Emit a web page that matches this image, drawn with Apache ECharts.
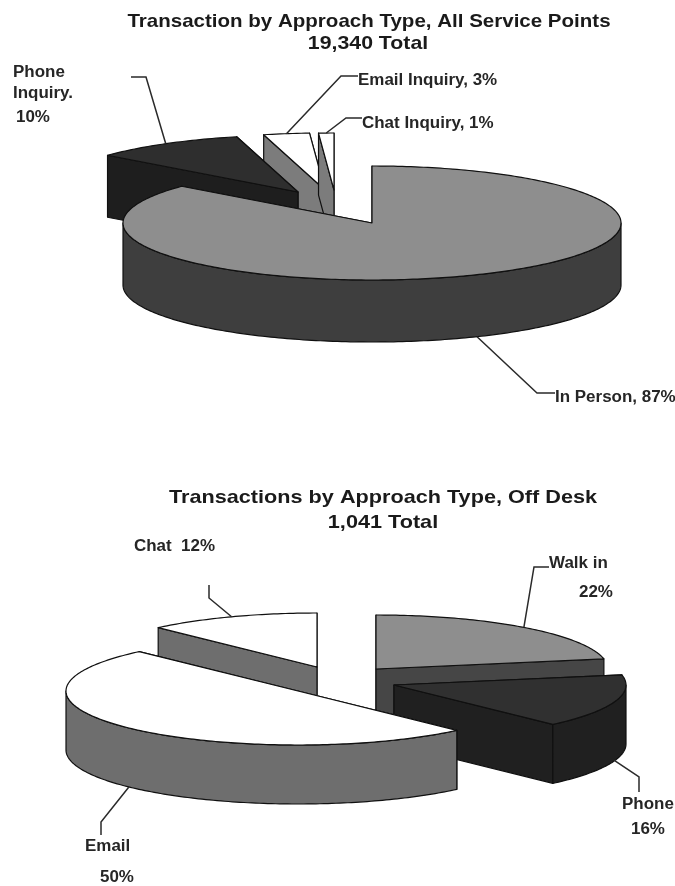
<!DOCTYPE html>
<html>
<head>
<meta charset="utf-8">
<style>html,body{margin:0;padding:0;background:#fff}#c{width:675px;height:886px;filter:blur(0.4px)}</style>
<script src="https://cdn.jsdelivr.net/npm/echarts@6/dist/echarts.min.js"></script>
</head>
<body>
<div id="c"></div>
<script>
// ---- data ----
const allPointCategories = ['In Person', 'Phone Inquiry', 'Email Inquiry', 'Chat Inquiry'];
const allPointValues = [87, 10, 3, 1];
const offDeskCategories = ['Walk in', 'Phone', 'Email', 'Chat'];
const offDeskValues = [22, 16, 50, 12];

// ---- look and layout ----
const FONT = '"Liberation Sans", Arial, sans-serif';
const LABEL_STRETCH = 1.06;
const layoutTop = {
  rx: 249, ry: 57, depth: 62,
  apex: [[372, 223], [298, 192], [325, 190], [334, 190]],
  order: [2, 3, 1, 0],
  topFill: ['#8e8e8e', '#2e2e2e', '#ffffff', '#ffffff'],
  wallFill: ['#3e3e3e', '#1e1e1e', '#7c7c7c', '#7c7c7c'],
  leader: [
    [[537, 393], [555, 393]],
    [[146, 77], [131, 77]],
    [[341, 76], [358, 76]],
    [[346, 118], [362, 118]]
  ],
  labels: [
    [['In Person, 87%', 555, 398]],
    [['Phone', 13, 73], ['Inquiry.', 13, 94], ['10%', 16, 118]],
    [['Email Inquiry, 3%', 358, 81]],
    [['Chat Inquiry, 1%', 362, 124]]
  ]
};
const layoutBottom = {
  rx: 232, ry: 54, depth: 59,
  apex: [[376, 669], [394, 685], [298, 691], [317, 667]],
  order: [0, 1, 3, 2],
  topFill: ['#8e8e8e', '#303030', '#ffffff', '#ffffff'],
  wallFill: ['#464646', '#202020', '#6e6e6e', '#6e6e6e'],
  leader: [
    [[534, 567], [549, 567]],
    [[639, 777], [639, 792]],
    [[101, 822], [101, 835]],
    [[209, 598], [209, 585]]
  ],
  labels: [
    [['Walk in', 549, 564], ['22%', 579, 593]],
    [['Phone', 622, 805], ['16%', 631, 830]],
    [['Email', 85, 847], ['50%', 100, 878]],
    [['Chat  12%', 134, 547]]
  ]
};
const titleLines = [
  ['Transaction by Approach Type, All Service Points', 369, 22, 1.08],
  ['19,340 Total', 368, 44, 1.12],
  ['Transactions by Approach Type, Off Desk', 383, 498, 1.14],
  ['1,041 Total', 383, 523, 1.14]
];

const rad = d => d * Math.PI / 180;

function pieSeries(names, values, L) {
  const total = values.reduce((a, b) => a + b, 0);
  const starts = [];
  let run = 0;
  values.forEach(v => { starts.push(run / total * 360); run += v; });

  function at(i, deg, drop) {
    return [
      L.apex[i][0] + L.rx * Math.sin(rad(deg)),
      L.apex[i][1] - L.ry * Math.cos(rad(deg)) + (drop || 0)
    ];
  }
  function arc(i, a, b, drop) {
    const pts = [];
    const n = Math.max(2, Math.ceil(Math.abs(b - a)));
    for (let k = 0; k <= n; k++) pts.push(at(i, a + (b - a) * k / n, drop));
    return pts;
  }
  const line = { stroke: '#101010', lineWidth: 1.2, lineJoin: 'round' };

  return {
    type: 'custom',
    coordinateSystem: 'none',
    silent: true,
    animation: false,
    clip: false,
    data: L.order.map(i => ({ name: names[i], value: [values[i]] })),
    renderItem(params, api) {
      const i = L.order[params.dataIndex];
      const a0 = starts[i];
      const a1 = a0 + api.value(0) / total * 360;
      const apex = L.apex[i];
      const kids = [];
      const poly = (points, fill) => kids.push({
        type: 'polygon', shape: { points }, style: Object.assign({ fill }, line)
      });
      const cut = deg => poly([
        apex, at(i, deg), at(i, deg, L.depth), [apex[0], apex[1] + L.depth]
      ], L.wallFill[i]);

      const front0 = Math.sin(rad(a0)) < -1e-6;
      const front1 = Math.sin(rad(a1)) > 1e-6;
      if (!front0) cut(a0);
      if (!front1) cut(a1);
      if (front0) cut(a0);
      if (front1) cut(a1);

      const w0 = Math.max(a0, 90), w1 = Math.min(a1, 270);
      if (w1 > w0) {
        poly(arc(i, w0, w1, 0).concat(arc(i, w1, w0, L.depth)), L.wallFill[i]);
      }
      poly([apex].concat(arc(i, a0, a1, 0)), L.topFill[i]);

      // leader line leaves the rim at the middle of the slice
      const mid = (a0 + a1) / 2;
      const frontRim = Math.cos(rad(mid)) < 0;
      const start = at(i, mid, frontRim ? L.depth : 0);
      kids.push({
        type: 'polyline',
        shape: { points: [start].concat(L.leader[i]) },
        style: { fill: null, stroke: '#2a2a2a', lineWidth: 1.5 }
      });
      L.labels[i].forEach(t => kids.push({
        type: 'text',
        x: t[1], y: t[2], scaleX: LABEL_STRETCH,
        style: {
          text: t[0],
          font: 'bold 16px ' + FONT, fill: '#262626',
          textAlign: 'left', textVerticalAlign: 'middle'
        }
      }));
      return { type: 'group', children: kids };
    }
  };
}

const chart = echarts.init(document.getElementById('c'), null, { renderer: 'canvas' });
chart.setOption({
  animation: false,
  backgroundColor: '#ffffff',
  graphic: titleLines.map(t => ({
    type: 'text', x: t[1], y: t[2], scaleX: t[3], silent: true,
    style: {
      text: t[0],
      font: 'bold 19px ' + FONT, fill: '#1a1a1a',
      textAlign: 'center', textVerticalAlign: 'middle'
    }
  })),
  series: [
    pieSeries(allPointCategories, allPointValues, layoutTop),
    pieSeries(offDeskCategories, offDeskValues, layoutBottom)
  ]
});
</script>
</body>
</html>
